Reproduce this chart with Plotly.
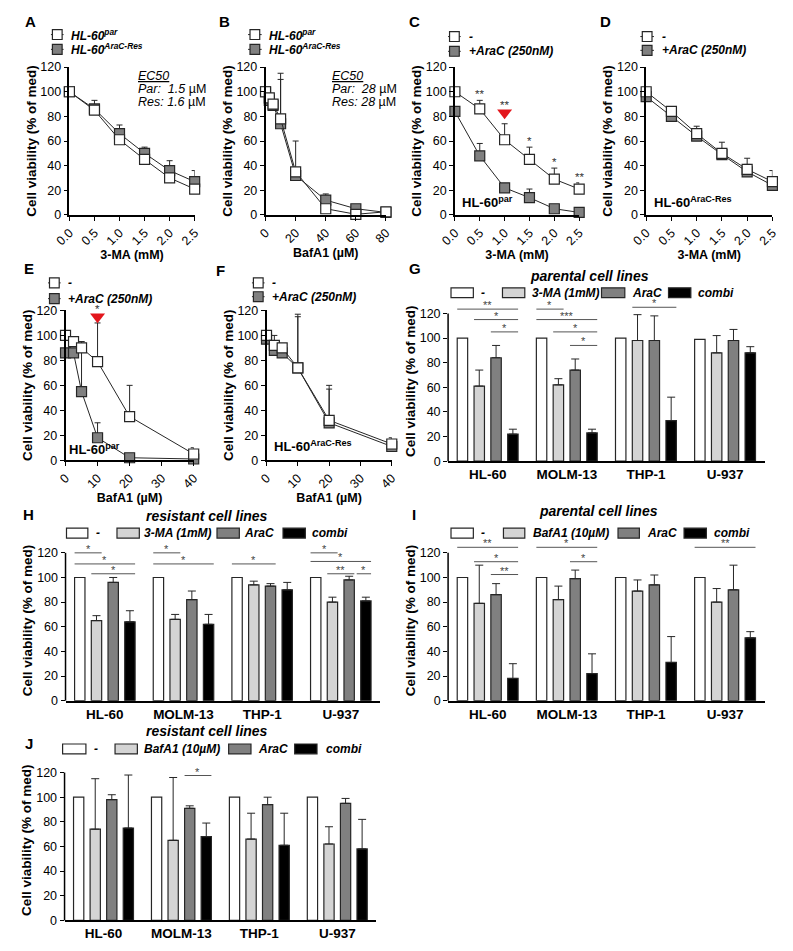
import plotly.graph_objects as go

W, H = 793, 951
FONT = "Liberation Sans, Arial, sans-serif"
EDGE = "#262626"
LIGHT = "#d4d4d4"
MID = "#808080"
RED = "#e3161c"

# ---------- dose-response data (panels A-F) ----------
ma_dose = [0.0, 0.5, 1.0, 1.5, 2.0, 2.5]
baf_dose = [0, 2.5, 5, 10, 20, 40, 60, 80]
baf_dose_short = [0, 2.5, 5, 10, 20, 40]

a_par = [100, 85, 61, 45, 30, 21]
a_par_err = [0, 0, 0, 0, 0, 0]
a_res = [100, 86, 66, 50, 36, 27]
a_res_err = [0, 7, 7, 5, 8, 9]

b_par = [100, 95, 90, 78, 35, 5, 0.5, 2.5]
b_par_err = [0, 0, 0, 32, 25, 0, 0, 0]
b_res = [100, 93, 89, 74, 32, 12, 5, 2]
b_res_err = [0, 0, 0, 41, 0, 5, 0, 0]

c_ctrl = [100, 86, 61, 45, 29, 21]
c_ctrl_err = [0, 7, 13, 10, 9, 5]
c_arac = [84, 48, 22, 14, 5, 2]
c_arac_err = [0, 10, 2, 7, 3, 0]
c_stars = ["", "**", "**", "*", "*", "**"]
c_arrow = (1.0, 83)

d_ctrl = [100, 84, 66, 50, 37, 27]
d_ctrl_err = [0, 0, 6, 9, 9, 9]
d_arac = [96, 80, 64, 49, 35, 24]
d_arac_err = [0, 0, 0, 3, 6, 5]

e_ctrl = [100, 95, 90, 79, 35, 5]
e_ctrl_err = [0, 0, 5, 31, 25, 5]
e_arac = [86, 86, 55, 18, 2, 1]
e_arac_err = [0, 0, 40, 12, 0, 0]
e_stars = ["", "", "", "*", "", ""]
e_arrow = (10, 115)

f_ctrl = [100, 92, 90, 74, 32, 13]
f_ctrl_err = [0, 8, 0, 43, 28, 5]
f_arac = [97, 88, 86, 74, 30, 11]
f_arac_err = [0, 0, 0, 41, 27, 5]

# ---------- bar data (panels G-J) ----------
cells = ["HL-60", "MOLM-13", "THP-1", "U-937"]

g_ctrl = [100, 100, 100, 99]
g_ma = [61, 62, 98, 88]
g_ma_err = [13, 5, 21, 14]
g_arac = [84, 74, 98, 98]
g_arac_err = [10, 9, 20, 9]
g_combi = [22, 23, 33, 88]
g_combi_err = [4, 3, 19, 5]
# (cell index, from bar, to bar, height, label)
g_sig = [(0, 0, 3, 123.5, "**"), (0, 1, 3, 115, "*"), (0, 2, 3, 105, "*"),
         (1, 0, 1, 123.5, "*"), (1, 0, 3, 115, "***"), (1, 1, 3, 105, "*"),
         (1, 2, 3, 94, "*"), (2, 1, 3, 125, "*")]

h_ctrl = [100, 100, 100, 100]
h_ma = [65, 66, 94, 80]
h_ma_err = [4, 4, 3, 4]
h_arac = [96, 82, 93, 98]
h_arac_err = [4, 7, 2, 3]
h_combi = [64, 62, 90, 81]
h_combi_err = [9, 8, 6, 3]
h_sig = [(0, 0, 1, 120, "*"), (0, 0, 3, 111, "*"), (0, 1, 3, 103, "*"),
         (1, 0, 1, 120, "*"), (1, 0, 3, 111, "*"), (2, 0, 2, 111, "*"),
         (3, 0, 1, 120, "*"), (3, 0, 3, 113, "*"), (3, 1, 2, 103, "**"),
         (3, 2, 3, 103, "*")]

i_ctrl = [100, 100, 100, 100]
i_baf = [79, 82, 89, 80]
i_baf_err = [31, 11, 9, 11]
i_arac = [86, 99, 94, 90]
i_arac_err = [9, 7, 8, 20]
i_combi = [18, 22, 31, 51]
i_combi_err = [12, 16, 21, 5]
i_sig = [(0, 0, 3, 124.5, "**"), (0, 1, 3, 112.8, "*"), (0, 2, 3, 102.4, "**"),
         (1, 0, 3, 124.5, "*"), (1, 2, 3, 112.8, "*"), (3, 0, 3, 124.5, "**")]

j_ctrl = [100, 100, 100, 100]
j_baf = [74, 65, 66, 62]
j_baf_err = [41, 51, 21, 14]
j_arac = [98, 91, 94, 95]
j_arac_err = [4, 2, 6, 4]
j_combi = [75, 68, 61, 58]
j_combi_err = [43, 11, 26, 24]
j_sig = [(1, 2, 3, 117.6, "*")]

YTITLE = "Cell viability (% of med)"
BARGAP, GROUPGAP = 0.15, 0.38
SLOT = (1 - BARGAP) / 4
BARW = SLOT * (1 - GROUPGAP)

fig = go.Figure()
shapes, annos = [], []


def px(x):
    return x / W


def py(y):
    return 1 - y / H


def names(n):
    s = "" if n == 1 else str(n)
    return "x" + s, "y" + s, "xaxis" + s, "yaxis" + s


def axis_common():
    return dict(showgrid=False, zeroline=False, linecolor="black", linewidth=1.5,
                ticks="outside", ticklen=4, tickwidth=1.2, tickcolor="black",
                tickfont=dict(size=12.5, color="black"), fixedrange=True)


def ytitle():
    return dict(text=YTITLE, font=dict(size=13.5, weight="bold"), standoff=1)


def text(x, y, s, size=11.5, xanchor="left", **kw):
    annos.append(dict(xref="paper", yref="paper", x=px(x), y=py(y), text=s,
                      showarrow=False, xanchor=xanchor, yanchor="middle",
                      font=dict(size=size, color="black", **kw)))


def line_panel(n, box, dose, ctrl, ctrl_err, drug, drug_err, xmax, ticks, ticktext, xtitle):
    xn, yn, xk, yk = names(n)
    x0, x1, y120, y0 = box
    for vals, err, fill in ((drug, drug_err, MID), (ctrl, ctrl_err, "white")):
        fig.add_trace(go.Scatter(
            x=dose, y=vals, mode="lines+markers", xaxis=xn, yaxis=yn,
            line=dict(color=EDGE, width=1),
            marker=dict(symbol="square", size=10, color=fill, line=dict(color=EDGE, width=1.2)),
            error_y=dict(type="data", symmetric=False, array=err, arrayminus=[0] * len(err),
                         color=EDGE, thickness=1, width=3),
            cliponaxis=False, showlegend=False))
    fig.update_layout(**{
        xk: dict(axis_common(), domain=[px(x0), px(x1)], anchor=yn, range=[0, xmax],
                 showline=True, tickvals=ticks, ticktext=ticktext, tickangle=-45,
                 title=dict(text=xtitle, font=dict(size=12.5, weight="bold"), standoff=0)),
        yk: dict(axis_common(), domain=[py(y0), py(y120)], anchor=xn, range=[0, 120],
                 showline=True, tickvals=list(range(0, 121, 20)), title=ytitle()),
    })


def stars(n, dose, top, labels, arrow):
    xn, yn, _, _ = names(n)
    fig.add_trace(go.Scatter(x=[arrow[0]], y=[arrow[1]], mode="markers", xaxis=xn, yaxis=yn,
                             marker=dict(symbol="triangle-down", size=13, color=RED),
                             cliponaxis=False, showlegend=False))
    for d, t, lab in zip(dose, top, labels):
        if not lab:
            continue
        y = arrow[1] + 1 if d == arrow[0] else t
        annos.append(dict(xref=xn, yref=yn, x=d, y=y, text=lab, showarrow=False,
                          yanchor="bottom", yshift=-2, font=dict(size=11.5, color="#333333")))


def bar_panel(n, box, series, sig):
    xn, yn, xk, yk = names(n)
    x0, x1, y120, y0 = box
    ytop = y0 - (y0 - y120) * 130 / 120
    for vals, err, fill in series:
        fig.add_trace(go.Bar(
            x=cells, y=vals, xaxis=xn, yaxis=yn, showlegend=False,
            marker=dict(color=fill, line=dict(color=EDGE, width=1.2)),
            error_y=None if err is None else dict(
                type="data", symmetric=False, array=err, arrayminus=[0] * len(err),
                color=EDGE, thickness=1, width=4)))
    fig.update_layout(**{
        xk: dict(axis_common(), domain=[px(x0), px(x1)], anchor=yn, type="category",
                 range=[-0.5, 3.5], showline=True, ticks="",
                 tickfont=dict(size=13.5, weight="bold", color="black")),
        yk: dict(axis_common(), domain=[py(y0), py(ytop)], anchor=xn, range=[0, 130],
                 showline=False, tickvals=list(range(0, 121, 20)), title=ytitle()),
    })
    # y axis line stops at 120
    shapes.append(dict(type="line", xref="paper", yref="paper", x0=px(x0), x1=px(x0),
                       y0=py(y0), y1=py(y120), line=dict(color="black", width=1.5)))
    placed = []
    for grp, a, b, level, lab in sig:
        xa = grp + (a - 1.5) * SLOT - BARW / 2
        xb = grp + (b - 1.5) * SLOT + BARW / 2
        for g2, l2, xa2, xb2 in placed:
            if g2 == grp and l2 == level and xa < xb2:
                xa = xb2 + 0.03
        placed.append((grp, level, xa, xb))
        shapes.append(dict(type="line", xref=xn, yref=yn, x0=xa, x1=xb, y0=level, y1=level,
                           line=dict(color="#555555", width=1)))
        annos.append(dict(xref=xn, yref=yn, x=(xa + xb) / 2, y=level, text=lab, showarrow=False,
                          yanchor="bottom", yshift=-4, font=dict(size=11, color="#444444")))


def line_key(x0, x1, rows, labels):
    fills = ["white", MID]
    for y, lab, fill in zip(rows, labels, fills):
        shapes.append(dict(type="line", xref="paper", yref="paper", x0=px(x0), x1=px(x1),
                           y0=py(y), y1=py(y), line=dict(color=EDGE, width=1)))
        m = (x0 + x1) / 2
        shapes.append(dict(type="rect", xref="paper", yref="paper", x0=px(m - 5), x1=px(m + 5),
                           y0=py(y + 5), y1=py(y - 5), fillcolor=fill,
                           line=dict(color=EDGE, width=1.2)))
        text(x1 + 6, y, lab, size=12, weight="bold", style="italic")


def bar_key(y, boxes, text_x, labels, title, title_xy):
    fills = ["white", LIGHT, MID, "black"]
    for (b0, b1), tx, lab, fill in zip(boxes, text_x, labels, fills):
        shapes.append(dict(type="rect", xref="paper", yref="paper", x0=px(b0), x1=px(b1),
                           y0=py(y + 5), y1=py(y - 5), fillcolor=fill,
                           line=dict(color=EDGE, width=1.2)))
        text(tx, y, lab, size=12, weight="bold", style="italic")
    text(title_xy[0], title_xy[1], title, size=14, xanchor="center", weight="bold", style="italic")


ma_ticks = ["%.1f" % d for d in ma_dose]

line_panel(1, (55, 184, 61, 211), ma_dose, a_par, a_par_err, a_res, a_res_err,
           2.5, ma_dose, ma_ticks, "3-MA (mM)")
line_panel(2, (257, 381, 61, 211), baf_dose, b_par, b_par_err, b_res, b_res_err,
           80, [0, 20, 40, 60, 80], ["0", "20", "40", "60", "80"], "BafA1 (µM)")
line_panel(3, (452, 580, 61, 211), ma_dose, c_ctrl, c_ctrl_err, c_arac, c_arac_err,
           2.5, ma_dose, ma_ticks, "3-MA (mM)")
line_panel(4, (649, 779, 61, 211), ma_dose, d_ctrl, d_ctrl_err, d_arac, d_arac_err,
           2.5, ma_dose, ma_ticks, "3-MA (mM)")
line_panel(5, (51, 183, 308, 460), baf_dose_short, e_ctrl, e_ctrl_err, e_arac, e_arac_err,
           40, [0, 10, 20, 30, 40], ["0", "10", "20", "30", "40"], "BafA1 (µM)")
line_panel(6, (258, 387, 308, 460), baf_dose_short, f_ctrl, f_ctrl_err, f_arac, f_arac_err,
           40, [0, 10, 20, 30, 40], ["0", "10", "20", "30", "40"], "BafA1 (µM)")

stars(3, ma_dose, [v + e for v, e in zip(c_ctrl, c_ctrl_err)], c_stars, c_arrow)
stars(5, baf_dose_short, [v + e for v, e in zip(e_ctrl, e_ctrl_err)], e_stars, e_arrow)

bar_panel(7, (445, 771, 311, 461),
          [(g_ctrl, None, "white"), (g_ma, g_ma_err, LIGHT), (g_arac, g_arac_err, MID),
           (g_combi, g_combi_err, "black")], g_sig)
bar_panel(8, (51, 375, 554, 704),
          [(h_ctrl, None, "white"), (h_ma, h_ma_err, LIGHT), (h_arac, h_arac_err, MID),
           (h_combi, h_combi_err, "black")], h_sig)
bar_panel(9, (445, 771, 554, 704),
          [(i_ctrl, None, "white"), (i_baf, i_baf_err, LIGHT), (i_arac, i_arac_err, MID),
           (i_combi, i_combi_err, "black")], i_sig)
bar_panel(10, (50, 371, 777, 927),
          [(j_ctrl, None, "white"), (j_baf, j_baf_err, LIGHT), (j_arac, j_arac_err, MID),
           (j_combi, j_combi_err, "black")], j_sig)

# legends
par_res = ["HL-60<sup>par</sup>", "HL-60<sup>AraC-Res</sup>"]
ctrl_arac = ["-", "+AraC (250nM)"]
line_key(36, 49, [28, 43], par_res)
line_key(239, 253, [28, 43], par_res)
line_key(445, 458, [30, 45], ctrl_arac)
line_key(643, 657, [30, 44], ctrl_arac)
line_key(33, 46, [280, 296], ctrl_arac)
line_key(243, 256, [280, 294], ctrl_arac)

ma_keys = ["-", "3-MA (1mM)", "AraC", "combi"]
baf_keys = ["-", "BafA1 (10µM)", "AraC", "combi"]
bar_key(290, [(448, 471), (501, 524), (603, 627), (672, 695)], [477, 529, 632, 700],
        ma_keys, "parental cell lines", (591, 273))
bar_key(534, [(52, 74), (104, 127), (207, 230), (275, 298)], [80, 130, 233, 303],
        ma_keys, "resistant cell lines", (197, 517))
bar_key(534, [(448, 471), (502, 524), (620, 642), (688, 711)], [477, 530, 648, 717],
        baf_keys, "parental cell lines", (600, 512))
bar_key(753, [(48, 72), (102, 125), (219, 242), (287, 310)], [78, 130, 247, 317],
        baf_keys, "resistant cell lines", (197, 735))

# EC50 boxes
for x, val in ((124, ("1.5", "1.6")), (323, ("28", "28"))):
    text(x, 70, "<i><u>EC50</u></i>", size=12.5)
    text(x, 83, "<i>Par:\u00a0\u00a0%s</i> µM" % val[0], size=12.5)
    text(x, 96, "<i>Res:\u00a0%s</i> µM" % val[1], size=12.5)

# cell line tags inside C-F
for n, tag, xf, yf in ((3, "HL-60<sup>par</sup>", 0.04, 0.02), (4, "HL-60<sup>AraC-Res</sup>", 0.05, 0.02),
                       (5, "HL-60<sup>par</sup>", 0.015, 0.01), (6, "HL-60<sup>AraC-Res</sup>", 0.04, 0.03)):
    xn, yn, _, _ = names(n)
    annos.append(dict(xref=xn + " domain", yref=yn + " domain", x=xf, y=yf, text=tag,
                      showarrow=False, xanchor="left", yanchor="bottom",
                      font=dict(size=13, weight="bold", color="black")))

# panel letters
for lab, x, y in (("A", 15, 15), ("B", 215, 15), ("C", 410, 15), ("D", 607, 15),
                  ("E", 13, 265), ("F", 211, 267), ("G", 411, 265), ("H", 13, 515),
                  ("I", 410, 515), ("J", 13, 748)):
    text(x, y, lab, size=15, xanchor="center", weight="bold")

fig.update_layout(
    width=W, height=H, margin=dict(l=0, r=0, t=0, b=0),
    paper_bgcolor="white", plot_bgcolor="white",
    font=dict(family=FONT, color="black"),
    barmode="group", bargap=BARGAP, bargroupgap=GROUPGAP,
    showlegend=False, shapes=shapes, annotations=annos,
)
# drop the default 8px body margin so the figure sits at the page origin
fig.write_html("out.html", config={"displayModeBar": False},
               post_script="document.body.style.margin='0';")
